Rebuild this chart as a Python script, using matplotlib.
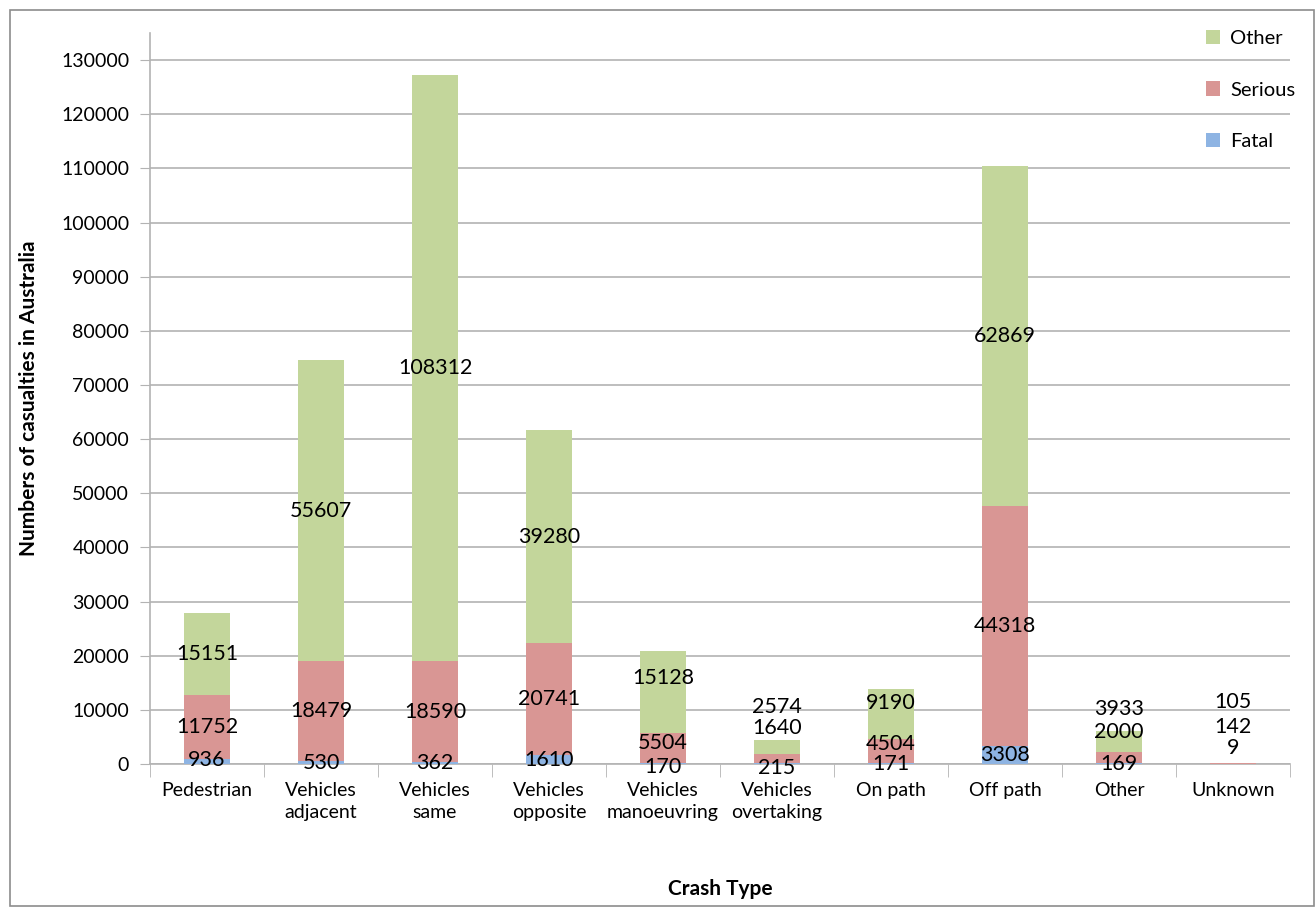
import numpy as np
import matplotlib
matplotlib.use('Agg')
import matplotlib.pyplot as plt
from matplotlib.patches import Rectangle

plt.rcParams['font.family'] = ['Lato', 'DejaVu Sans']

# --- data
categories = ['Pedestrian', 'Vehicles\nadjacent', 'Vehicles\nsame', 'Vehicles\nopposite',
              'Vehicles\nmanoeuvring', 'Vehicles\novertaking', 'On path', 'Off path',
              'Other', 'Unknown']
fatal   = [936, 530, 362, 1610, 170, 215, 171, 3308, 169, 9]
serious = [11752, 18479, 18590, 20741, 5504, 1640, 4504, 44318, 2000, 142]
other   = [15151, 55607, 108312, 39280, 15128, 2574, 9190, 62869, 3933, 105]

# label positions that Excel pushed away from the segment centre (data units)
label_y = {
    (0, 'fatal'): 700,
    (4, 'other'): 15900, (4, 'serious'): 3880, (4, 'fatal'): -550,
    (5, 'other'): 10540, (5, 'serious'): 6657, (5, 'fatal'): -740,
    (6, 'other'): 11280, (6, 'serious'): 3700, (6, 'fatal'): 0,
    (8, 'other'): 10170, (8, 'serious'): 5920, (8, 'fatal'): 0,
    (9, 'other'): 11460, (9, 'serious'): 6840, (9, 'fatal'): 2960,
}

col_f, col_s, col_o = '#8EB4E3', '#D99694', '#C3D69B'
grid_c = '#B3B3B3'

fig = plt.figure(figsize=(13.16, 9.08), dpi=100)
fig.patches.append(Rectangle((10/1316, 2/908), 1304/1316, 896/908, transform=fig.transFigure,
                             fill=False, ec='#8C8C8C', lw=1.2))
ax = fig.add_axes([150/1316, 1-764/908, 1140/1316, 731/908])

x = np.arange(len(categories))
f = np.array(fatal); s = np.array(serious); o = np.array(other)
w = 0.4
ax.bar(x, f, w, color=col_f, label='Fatal', zorder=3)
ax.bar(x, s, w, bottom=f, color=col_s, label='Serious', zorder=3)
ax.bar(x, o, w, bottom=f+s, color=col_o, label='Other', zorder=3)

for i in range(len(categories)):
    segs = [('fatal', f[i], 0), ('serious', s[i], f[i]), ('other', o[i], f[i]+s[i])]
    for key, v, b in segs:
        y = label_y.get((i, key), b + v/2)
        ax.text(x[i], y, str(v), ha='center', va='center', fontsize=15.5, zorder=5)

ax.set_xlim(-0.5, len(categories)-0.5)
ax.set_ylim(0, 135000)
ax.set_yticks(np.arange(0, 130001, 10000))
ax.tick_params(axis='y', labelsize=14, length=7, color=grid_c, pad=8)
ax.yaxis.grid(True, color=grid_c, lw=1.2, zorder=0)
ax.set_xticks(x)
ax.set_xticklabels(categories, fontsize=14, linespacing=1.35, va='top')
ax.set_xticks(np.arange(-0.5, len(categories)), minor=True)
ax.tick_params(axis='x', which='major', length=0, pad=13)
ax.tick_params(axis='x', which='minor', length=9, color=grid_c)
for sp in ['top', 'right']:
    ax.spines[sp].set_visible(False)
for sp in ['left', 'bottom']:
    ax.spines[sp].set_color(grid_c)
    ax.spines[sp].set_linewidth(1.2)

ax.set_ylabel('Numbers of casualties in Australia', fontsize=15, fontweight='bold', labelpad=16)
ax.set_xlabel('Crash Type', fontsize=15, fontweight='bold', labelpad=42)

h, l = ax.get_legend_handles_labels()
ax.legend(h[::-1], l[::-1], loc='upper left', bbox_to_anchor=(1188/1316, 1-12/908),
          bbox_transform=fig.transFigure, frameon=False, fontsize=14.5,
          handlelength=0.7, handleheight=0.7, labelspacing=1.7, handletextpad=0.5)

fig.savefig('out.png', dpi=100)
